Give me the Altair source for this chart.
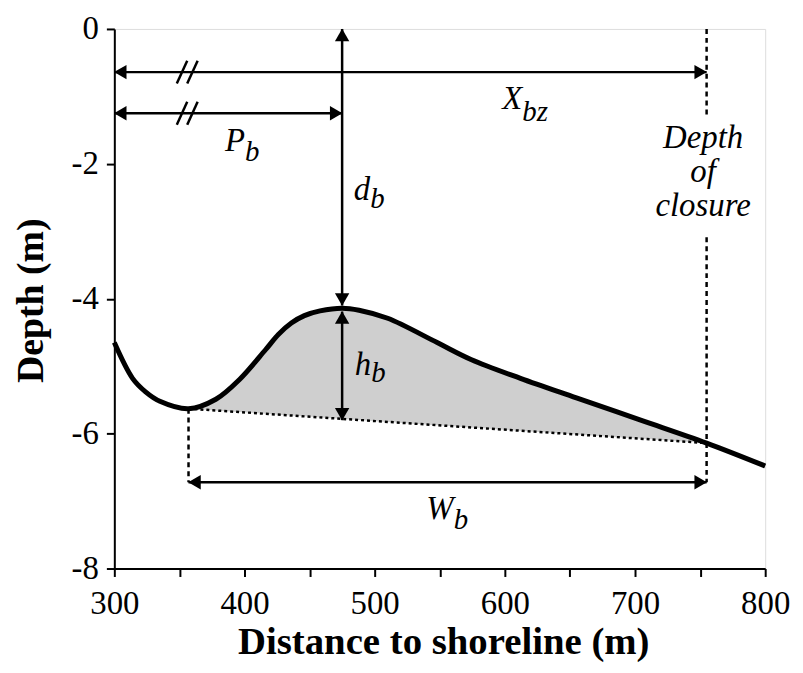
import altair as alt
import pandas as pd
import numpy as np

# ---- profile ----
curve_x = [300, 314, 324, 335, 357, 378, 396, 416, 426, 436, 446, 458, 475, 488, 510, 548, 574, 612,
           655, 706, 755, 800]
curve_y = [-4.65, -5.18, -5.38, -5.52, -5.63, -5.49, -5.20, -4.76, -4.53, -4.36, -4.25, -4.18, -4.14,
           -4.17, -4.29, -4.65, -4.90, -5.18, -5.47, -5.81, -6.14, -6.48]

# chord under the bar (dotted)
base_x = [357, 755]
base_y = [-5.63, -6.14]

# dimension lines
seg_x = [300, 300, 475, 475, 357]
seg_x2 = [755, 475, 475, 475, 755]
seg_y = [-0.64, -1.25, 0.0, -4.19, -6.72]
seg_y2 = [-0.64, -1.25, -4.10, -5.80, -6.72]

# dashed verticals
dash_x = [755, 755, 357]
dash_y = [0.0, -3.09, -5.63]
dash_y2 = [-1.27, -6.72, -6.72]

# arrowheads
head_x = [300, 755, 300, 475, 475, 475, 475, 475, 357, 755]
head_y = [-0.64, -0.64, -1.25, -1.25, 0.0, -4.10, -4.19, -5.80, -6.72, -6.72]
head_dir = ["left", "right", "left", "right", "up", "down", "up", "down", "left", "right"]

# axis-break slashes
brk_x = [352, 360, 352, 360]
brk_y = [-0.64, -0.64, -1.25, -1.25]

# labels
main_text = ["X", "P", "d", "h", "W"]
main_x = [613.4, 400.4, 496.6, 497.3, 560.7]
main_y = [-1.19, -1.81, -2.53, -5.13, -7.26]
sub_text = ["bz", "b", "b", "b", "b"]
sub_x = [613.4, 400.4, 496.6, 497.3, 560.7]
sub_y = [-1.37, -1.96, -2.65, -5.24, -7.41]

doc_text = ["Depth", "of", "closure"]
doc_x = [752.3, 752.3, 752.3]
doc_y = [-1.77, -2.27, -2.77]

x_ticks = list(range(300, 801, 50))
y_ticks = [0, -2, -4, -6, -8]

SERIF = "'Liberation Serif', 'Times New Roman', Times, serif"

xs = alt.Scale(domain=[300, 800], nice=False, zero=False)
ys = alt.Scale(domain=[-8, 0], nice=False, zero=False)
INTERP = "catmull-rom"

curve = pd.DataFrame({"x": curve_x, "y": curve_y})
area_df = curve[(curve.x >= base_x[0]) & (curve.x <= base_x[1])].copy()
area_df["y2"] = np.interp(area_df.x, base_x, base_y)

area = alt.Chart(area_df).mark_area(color="#cfcfcf", interpolate=INTERP).encode(
    x=alt.X("x:Q", scale=xs, axis=alt.Axis(
        values=x_ticks, labelExpr="datum.value % 100 == 0 ? datum.label : ''",
        title="Distance to shoreline (m)", grid=False, domainColor="black", domainWidth=2,
        tickColor="black", tickWidth=2, tickSize=8, labelFont=SERIF, labelFontSize=33,
        labelColor="black", labelPadding=11, labelFlush=False,
        titleFont=SERIF, titleFontSize=39, titleFontWeight="bold", titleColor="black",
        titleBaseline="alphabetic", titleY=86, titleX=331)),
    y=alt.Y("y:Q", scale=ys, axis=alt.Axis(
        values=y_ticks, labelExpr="'' + datum.value",
        title="Depth (m)", grid=False, domainColor="black", domainWidth=2,
        tickColor="black", tickWidth=2, tickSize=8, labelFont=SERIF, labelFontSize=33,
        labelColor="black", labelPadding=8,
        titleFont=SERIF, titleFontSize=38, titleFontWeight="bold", titleColor="black",
        titleBaseline="alphabetic", titleX=-72, titleY=273, titleAngle=270)),
    y2="y2:Q",
)

base = alt.Chart(pd.DataFrame({"x": [base_x[0]], "x2": [base_x[1]], "y": [base_y[0]], "y2": [base_y[1]]})
                 ).mark_rule(color="black", strokeWidth=2.5, strokeDash=[3, 3]).encode(
    x=alt.X("x:Q", scale=xs), x2="x2:Q", y=alt.Y("y:Q", scale=ys), y2="y2:Q")

dash = alt.Chart(pd.DataFrame({"x": dash_x, "y": dash_y, "y2": dash_y2})).mark_rule(
    color="black", strokeWidth=2.5, strokeDash=[5, 4]).encode(
    x=alt.X("x:Q", scale=xs), y=alt.Y("y:Q", scale=ys), y2="y2:Q")

segs = alt.Chart(pd.DataFrame({"x": seg_x, "x2": seg_x2, "y": seg_y, "y2": seg_y2})).mark_rule(
    color="black", strokeWidth=2.5).encode(
    x=alt.X("x:Q", scale=xs), x2="x2:Q", y=alt.Y("y:Q", scale=ys), y2="y2:Q")

brk_df = pd.DataFrame({"cx": brk_x, "cy": brk_y})
brk_df["x"] = brk_df.cx - 4
brk_df["x2"] = brk_df.cx + 4
brk_df["y"] = brk_df.cy - 0.17
brk_df["y2"] = brk_df.cy + 0.17
brks = alt.Chart(brk_df).mark_rule(color="black", strokeWidth=2.5).encode(
    x=alt.X("x:Q", scale=xs), x2="x2:Q", y=alt.Y("y:Q", scale=ys), y2="y2:Q")

heads_df = pd.DataFrame({"x": head_x, "y": head_y, "d": head_dir})
offs = {"left": (6, 0), "right": (-6, 0), "up": (0, 6), "down": (0, -6)}
head_layers = []
for d, (dx, dy) in offs.items():
    head_layers.append(
        alt.Chart(heads_df[heads_df.d == d]).mark_point(
            shape="triangle-" + d, filled=True, color="black", size=210, opacity=1,
            xOffset=dx, yOffset=dy).encode(
            x=alt.X("x:Q", scale=xs), y=alt.Y("y:Q", scale=ys)))

line = alt.Chart(curve).mark_line(color="black", strokeWidth=5, interpolate=INTERP).encode(
    x=alt.X("x:Q", scale=xs), y=alt.Y("y:Q", scale=ys))

mains = alt.Chart(pd.DataFrame({"x": main_x, "y": main_y, "t": main_text})).mark_text(
    font=SERIF, fontStyle="italic", fontSize=33, align="right", baseline="alphabetic", color="black").encode(
    x=alt.X("x:Q", scale=xs), y=alt.Y("y:Q", scale=ys), text="t:N")

subs = alt.Chart(pd.DataFrame({"x": sub_x, "y": sub_y, "t": sub_text})).mark_text(
    font=SERIF, fontStyle="italic", fontSize=29, align="left", baseline="alphabetic", color="black").encode(
    x=alt.X("x:Q", scale=xs), y=alt.Y("y:Q", scale=ys), text="t:N")

docs = alt.Chart(pd.DataFrame({"x": doc_x, "y": doc_y, "t": doc_text})).mark_text(
    font=SERIF, fontStyle="italic", fontSize=33, align="center", baseline="alphabetic", color="black").encode(
    x=alt.X("x:Q", scale=xs), y=alt.Y("y:Q", scale=ys), text="t:N")

chart = alt.layer(area, base, dash, segs, brks, *head_layers, line, mains, subs, docs).properties(
    width=655, height=543,
    autosize=alt.AutoSizeParams(type="none"),
    padding={"left": 107, "top": 19, "right": 30, "bottom": 95},
).configure_view(stroke="black", strokeWidth=2).configure(background="white")

chart.save("out.html", embed_options={"renderer": "svg", "actions": False})
